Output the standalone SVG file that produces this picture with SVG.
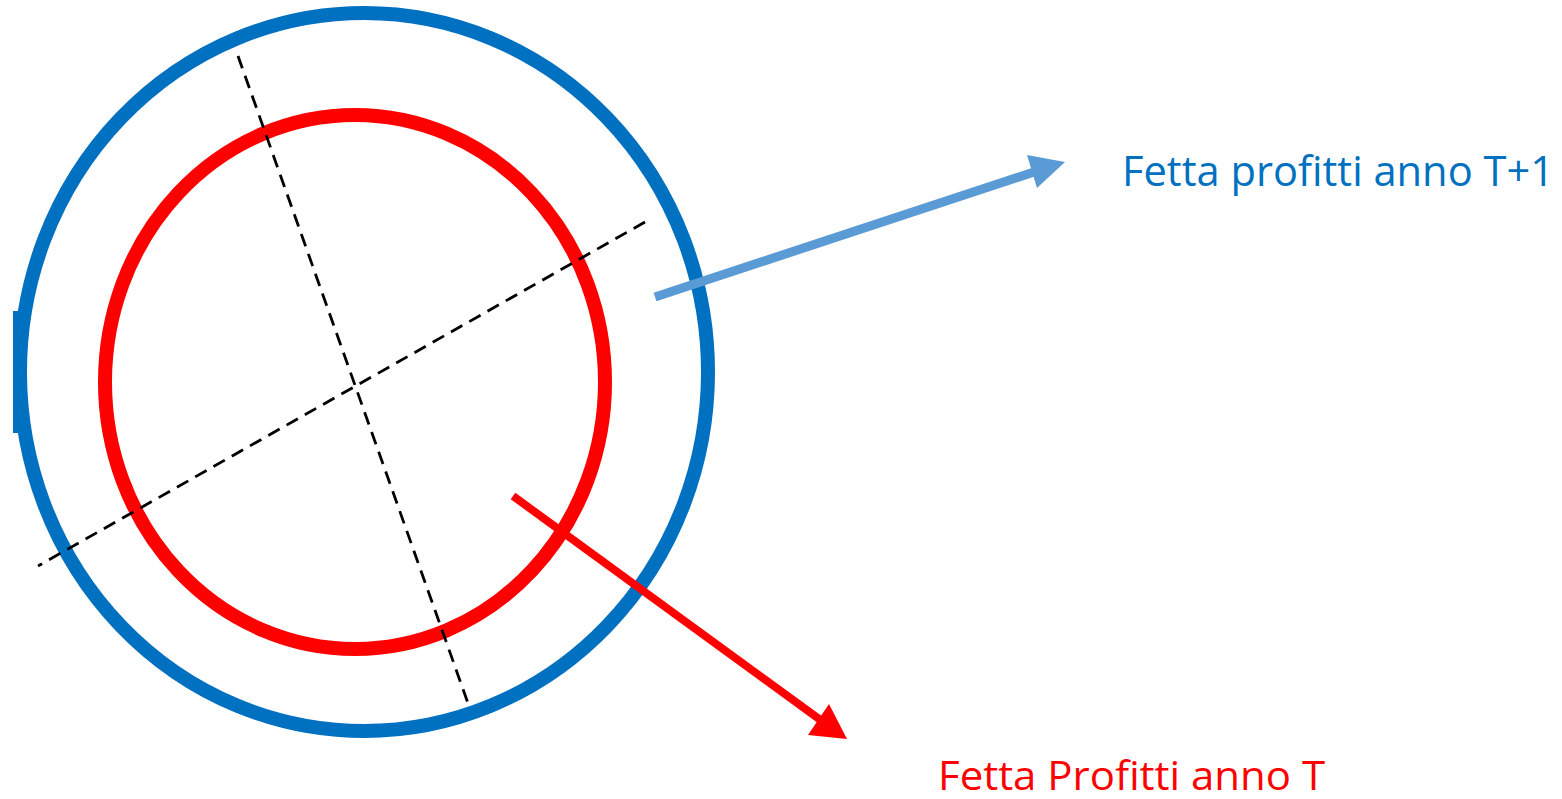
<svg xmlns="http://www.w3.org/2000/svg" width="1562" height="799" viewBox="0 0 1562 799">
<defs>
<style>
.dash{stroke:#000;stroke-width:2.8;stroke-dasharray:13 8;fill:none}
.lbl{font-family:"Open Sans","Liberation Sans",sans-serif}
</style>
</defs>
<rect width="1562" height="799" fill="#fff"/>
<g id="outer-circle">
<ellipse cx="364" cy="372" rx="344" ry="359" fill="none" stroke="#0070C0" stroke-width="14"/>
<rect x="13" y="311" width="10" height="122" fill="#0070C0"/>
</g>
<g id="inner-circle">
<ellipse cx="355" cy="382" rx="250" ry="267" fill="none" stroke="#FF0000" stroke-width="14"/>
</g>
<g id="connectors">
<line class="dash" x1="238" y1="56" x2="469" y2="706"/>
<line class="dash" x1="645" y1="222" x2="38" y2="566"/>
<line x1="655" y1="297" x2="1040" y2="170" stroke="#5B9BD5" stroke-width="9"/>
<polygon points="1065,162 1027,155 1037,188" fill="#5B9BD5"/>
<line x1="513" y1="496" x2="826" y2="724" stroke="#FF0000" stroke-width="8"/>
<polygon points="847,739 808,735 829,704" fill="#FF0000"/>
</g>
<g id="label-t1">
<text class="lbl" x="1122" y="186" font-size="42" fill="#0070C0" textLength="432" lengthAdjust="spacingAndGlyphs">Fetta profitti anno T+1</text>
</g>
<g id="label-t">
<text class="lbl" x="938" y="790" font-size="40" fill="#FF0000" textLength="387" lengthAdjust="spacingAndGlyphs">Fetta Profitti anno T</text>
</g>
</svg>
